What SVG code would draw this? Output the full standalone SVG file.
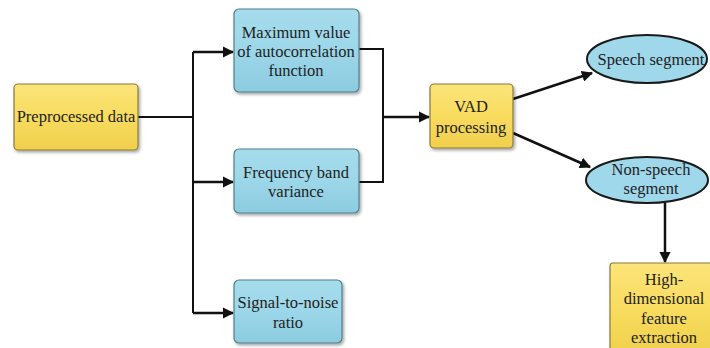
<svg xmlns="http://www.w3.org/2000/svg" width="710" height="348" viewBox="0 0 710 348">
  <style>
    .txt { font-family: "Liberation Serif", "Times New Roman", serif; font-size: 16.5px; fill: #222; text-anchor: middle; }
    .yel { fill: url(#gYel); stroke: #8a7a3a; stroke-width: 1.2; filter: url(#shadow); }
    .blu { fill: url(#gBlu); stroke: #4e7f8c; stroke-width: 1.2; filter: url(#shadow); }
    .ell { fill: #9fd8ea; stroke: #1a1a1a; stroke-width: 2; }
    .wire { fill: none; stroke: #111; stroke-width: 2; }
    .arrow { fill: none; stroke: #111; stroke-width: 2.5; marker-end: url(#head); }
  </style>
  <defs>
    <linearGradient id="gYel" x1="0" y1="0" x2="0" y2="1">
      <stop offset="0" stop-color="#fbe47a"/>
      <stop offset="0.5" stop-color="#f8dc5e"/>
      <stop offset="1" stop-color="#f0cf4c"/>
    </linearGradient>
    <linearGradient id="gBlu" x1="0" y1="0" x2="0" y2="1">
      <stop offset="0" stop-color="#a6dcec"/>
      <stop offset="0.5" stop-color="#9cd7e9"/>
      <stop offset="1" stop-color="#8ccbdf"/>
    </linearGradient>
    <filter id="shadow" x="-10%" y="-10%" width="125%" height="130%">
      <feDropShadow dx="1.5" dy="2" stdDeviation="1.5" flood-color="#000" flood-opacity="0.35"/>
    </filter>
    <marker id="head" viewBox="0 0 10 10" refX="9" refY="5" markerWidth="4.5" markerHeight="4.5" orient="auto" markerUnits="strokeWidth">
      <path d="M0,0 L10,5 L0,10 z" fill="#111"/>
    </marker>
  </defs>

  <!-- connectors -->
  <g id="connectors">
    <path class="wire" d="M138,117 H193" stroke-width="3"/>
    <path class="wire" d="M193,52 V313"/>
    <path class="arrow" d="M193,52 H233"/>
    <path class="arrow" d="M193,182 H233"/>
    <path class="arrow" d="M193,313 H233"/>
    <path class="wire" d="M359,49 H383 V182 H359"/>
    <path class="arrow" d="M383,117 H429" stroke-width="3"/>
    <path class="arrow" d="M513,99 L592,73"/>
    <path class="arrow" d="M513,133 L590,167"/>
    <path class="arrow" d="M665,203 V262" stroke-width="3"/>
  </g>

  <g id="preprocessed">
    <rect class="yel" x="14" y="84" width="124" height="66" rx="4"/>
    <text class="txt" x="76" y="122">Preprocessed data</text>
  </g>

  <g id="autocorr">
    <rect class="blu" x="234" y="9" width="125" height="83" rx="5"/>
    <text class="txt" x="296" y="38">Maximum value</text>
    <text class="txt" x="296" y="57">of autocorrelation</text>
    <text class="txt" x="296" y="76">function</text>
  </g>

  <g id="freqvar">
    <rect class="blu" x="234" y="149" width="125" height="64" rx="5"/>
    <text class="txt" x="296" y="178">Frequency band</text>
    <text class="txt" x="296" y="197">variance</text>
  </g>

  <g id="snr">
    <rect class="blu" x="234" y="280" width="108" height="63" rx="5"/>
    <text class="txt" x="288" y="308">Signal-to-noise</text>
    <text class="txt" x="288" y="328">ratio</text>
  </g>

  <g id="vad">
    <rect class="yel" x="430" y="84" width="83" height="64" rx="4"/>
    <text class="txt" x="471" y="112">VAD</text>
    <text class="txt" x="471" y="133">processing</text>
  </g>

  <g id="speech">
    <ellipse class="ell" cx="647" cy="59" rx="60" ry="24"/>
    <text class="txt" x="651" y="65">Speech segment</text>
  </g>

  <g id="nonspeech">
    <ellipse class="ell" cx="647" cy="180" rx="61" ry="23"/>
    <text class="txt" x="651" y="175">Non-speech</text>
    <text class="txt" x="651" y="194">segment</text>
  </g>

  <g id="highdim">
    <rect class="yel" x="610" y="263" width="104" height="95" rx="3"/>
    <text class="txt" x="664" y="285">High-</text>
    <text class="txt" x="664" y="304">dimensional</text>
    <text class="txt" x="664" y="324">feature</text>
    <text class="txt" x="664" y="343">extraction</text>
  </g>
</svg>
